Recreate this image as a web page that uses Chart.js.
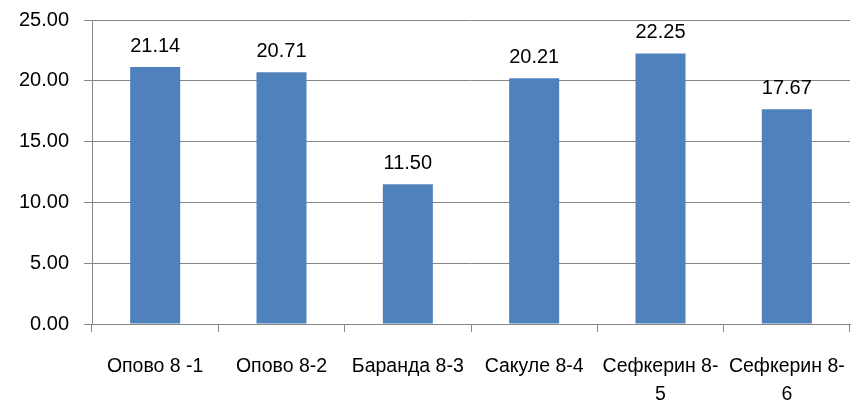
<!DOCTYPE html>
<html>
<head>
<meta charset="utf-8">
<script src="https://cdn.jsdelivr.net/npm/chart.js@4.4.0/dist/chart.umd.min.js"></script>
<style>
html,body{margin:0;padding:0;background:#fff;}
#wrap{width:854px;height:401px;position:relative;}
</style>
</head>
<body>
<div id="wrap"><canvas id="c" width="854" height="401"></canvas></div>
<script>
const categories = [
  "Опово 8 -1",
  "Опово 8-2",
  "Баранда 8-3",
  "Сакуле 8-4",
  ["Сефкерин 8-", "5"],
  ["Сефкерин 8-", "6"]
];
const values = [21.14, 20.71, 11.50, 20.21, 22.25, 17.67];
const yTicks = [0, 5, 10, 15, 20, 25];

const FONT = "'Liberation Sans', Arial, sans-serif";

const valueLabels = {
  id: 'valueLabels',
  afterDatasetsDraw(chart) {
    const ctx = chart.ctx;
    const meta = chart.getDatasetMeta(0);
    ctx.save();
    ctx.font = "20px " + FONT;
    ctx.fillStyle = "#000";
    ctx.textAlign = "center";
    ctx.textBaseline = "alphabetic";
    meta.data.forEach((bar, i) => {
      ctx.fillText(values[i].toFixed(2), bar.x, bar.y - 15);
    });
    ctx.restore();
  }
};

new Chart(document.getElementById('c'), {
  type: 'bar',
  data: {
    labels: categories,
    datasets: [{
      data: values,
      backgroundColor: '#4F81BD',
      borderWidth: 0,
      categoryPercentage: 1.0,
      barPercentage: 0.396
    }]
  },
  options: {
    responsive: false,
    animation: false,
    devicePixelRatio: 1,
    layout: { padding: { top: 20, right: 4, left: 0, bottom: 0 } },
    plugins: {
      legend: { display: false },
      tooltip: { enabled: false }
    },
    scales: {
      x: {
        grid: {
          offset: true,
          drawOnChartArea: false,
          drawTicks: true,
          tickLength: 8,
          color: '#868686',
          lineWidth: 1
        },
        border: { color: '#868686', width: 1 },
        ticks: {
          color: '#000',
          font: { family: FONT, size: 19.5, lineHeight: 1.45 },
          padding: 20,
          maxRotation: 0,
          minRotation: 0,
          autoSkip: false
        },
        afterFit(scale) {
          scale.height = 77;
          scale.paddingLeft = 0; scale.paddingRight = 0;
          scale.paddingTop = 0; scale.paddingBottom = 0;
        }
      },
      y: {
        min: 0,
        max: 25,
        afterBuildTicks(scale) { scale.ticks = yTicks.map(v => ({ value: v })); },
        grid: {
          color: '#868686',
          lineWidth: 1,
          drawTicks: true,
          tickLength: 8
        },
        border: { color: '#868686', width: 1 },
        ticks: {
          color: '#000',
          font: { family: FONT, size: 20 },
          padding: 15,
          callback: v => Number(v).toFixed(2)
        },
        afterFit(scale) {
          scale.width = 92;
          scale.paddingLeft = 0; scale.paddingRight = 0;
          scale.paddingTop = 0; scale.paddingBottom = 0;
        }
      }
    }
  },
  plugins: [valueLabels]
});
</script>
</body>
</html>
